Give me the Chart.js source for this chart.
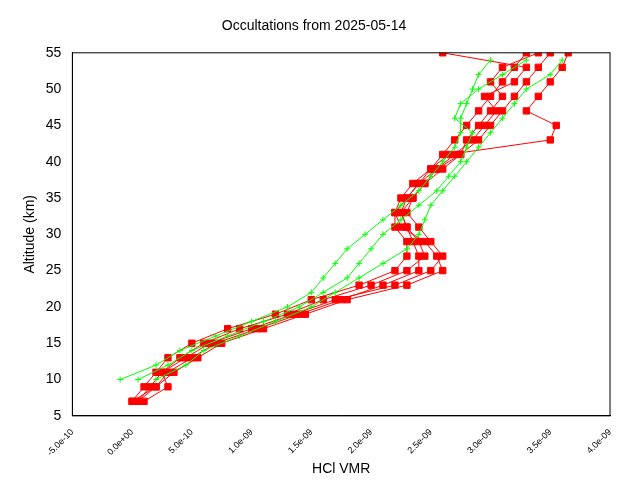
<!DOCTYPE html>
<html>
<head>
<meta charset="utf-8">
<script src="https://cdn.jsdelivr.net/npm/chart.js@4"></script>
<style>
  body { margin: 0; background: #fff; }
  #wrap { width: 640px; height: 480px; }
</style>
</head>
<body>
<div id="wrap"><canvas id="chart"></canvas></div>
<script>
// HCl VMR in units of 1e-9, altitude in km
const altRed = [7, 9, 11, 13, 15, 17, 19, 21, 23, 25, 27, 29, 31, 33, 35, 37, 39, 41, 43, 45, 47, 49, 51, 53, 55];
const red1 = [0.0, 0.1, 0.2, 0.3, 0.5, 0.8, 1.2, 1.5, 1.9, 2.2, 2.3, 2.3, 2.2, 2.2, 2.3, 2.4, 2.5, 2.6, 2.7, 2.8, 2.9, 3.0, 3.1, 3.2, 3.3];
const red2 = [0.05, 0.15, 0.25, 0.45, 0.65, 1.0, 1.35, 1.7, 2.2, 2.5, 2.6, 2.5, 2.4, 2.3, 2.35, 2.45, 2.6, 2.75, 2.9, 3.0, 3.1, 3.2, 3.3, 3.4, 3.5];
const red3 = [0.0, 0.2, 0.35, 0.55, 0.75, 1.1, 1.45, 1.8, 2.3, 2.6, 2.55, 2.45, 2.25, 2.2, 2.25, 2.35, 2.5, 2.65, 3.5, 3.55, 3.3, 3.4, 3.5, 3.6, 3.65];
const red4 = [0.1, 0.3, 0.25, 0.4, 0.6, 0.9, 1.3, 1.6, 2.0, 2.3, 2.45, 2.4, 2.3, 2.25, 2.3, 2.4, 2.55, 2.7, 2.85, 2.95, 3.05, 2.95, 3.2, 3.3, 2.6];
const red5 = [0.05, 0.2, 0.3, 0.5, 0.7, 1.05, 1.4, 1.75, 2.1, 2.4, 2.4, 2.35, 2.3, 2.25, 2.35, 2.45, 2.55, 2.75, 2.8, 2.9, 3.0, 3.1, 3.0, 3.1, 3.4];

const altGreen = [10, 12, 14, 16, 18, 20, 22, 24, 26, 28, 30, 32, 34, 36, 38, 40, 42, 44, 46, 48, 50, 52, 54];
const green1 = [-0.1, 0.2, 0.4, 0.7, 1.0, 1.3, 1.5, 1.6, 1.7, 1.8, 1.95, 2.1, 2.25, 2.4, 2.5, 2.6, 2.7, 2.75, 2.75, 2.8, 2.85, 2.9, 3.0];
const green2 = [0.05, 0.3, 0.5, 0.8, 1.1, 1.4, 1.6, 1.8, 1.9, 2.0, 2.1, 2.25, 2.4, 2.55, 2.65, 2.75, 2.8, 2.85, 2.7, 2.75, 2.9, 3.1, 3.3];
const green3 = [0.2, 0.45, 0.6, 0.9, 1.2, 1.5, 1.7, 1.9, 2.1, 2.3, 2.4, 2.45, 2.5, 2.6, 2.7, 2.8, 2.9, 3.0, 3.1, 3.2, 3.3, 3.5, 3.6];

const greenProfiles = [green1, green2, green3];
const redProfiles = [red1, red2, red3, red4, red5];

const toPoints = (alts, vals) => vals.map((v, i) => ({ x: v, y: alts[i] }));

const datasets = [];
greenProfiles.forEach(p => datasets.push({
  data: toPoints(altGreen, p),
  showLine: true,
  borderColor: '#00ff00',
  backgroundColor: '#00ff00',
  borderWidth: 1,
  pointStyle: 'cross',
  pointRadius: 3,
  pointBorderWidth: 1
}));
redProfiles.forEach(p => datasets.push({
  data: toPoints(altRed, p),
  showLine: true,
  borderColor: '#ff0000',
  backgroundColor: '#ff0000',
  borderWidth: 1,
  pointStyle: 'rect',
  pointRadius: 4.5
}));

const font = { family: 'Liberation Sans, Arial, sans-serif' };

new Chart(document.getElementById('chart'), {
  type: 'scatter',
  data: { datasets },
  options: {
    responsive: true,
    maintainAspectRatio: false,
    animation: false,
    layout: { padding: { left: 18, right: 30, top: 14, bottom: 0 } },
    plugins: {
      legend: { display: false },
      tooltip: { enabled: false },
      title: {
        display: true,
        text: 'Occultations from 2025-05-14',
        color: '#000',
        font: { ...font, size: 14, weight: 'normal' },
        padding: { top: 4, bottom: 18 }
      }
    },
    scales: {
      x: {
        min: -0.5, max: 4.0,
        grid: { display: false, drawTicks: true },
        border: { color: '#000', width: 1 },
        ticks: {
          stepSize: 0.5,
          color: '#000',
          maxRotation: 45, minRotation: 45,
          font: { ...font, size: 9 },
          callback: v => (v * 1e-9).toExponential(1).replace(/e([+-])(\d)$/, 'e$10$2')
        },
        title: { display: true, text: 'HCl VMR', color: '#000', font: { ...font, size: 14 }, padding: { top: 0, bottom: 2 } }
      },
      y: {
        min: 5, max: 55,
        grid: { display: false },
        border: { color: '#000', width: 1 },
        ticks: { stepSize: 5, color: '#000', font: { ...font, size: 14 } },
        title: { display: true, text: 'Altitude (km)', color: '#000', font: { ...font, size: 14 } }
      }
    }
  },
  plugins: [{
    id: 'box',
    afterDraw(chart) {
      const { ctx, chartArea: a } = chart;
      ctx.save();
      ctx.strokeStyle = '#000';
      ctx.lineWidth = 1;
      ctx.strokeRect(a.left, a.top, a.right - a.left, a.bottom - a.top);
      ctx.restore();
    }
  }]
});
</script>
</body>
</html>
